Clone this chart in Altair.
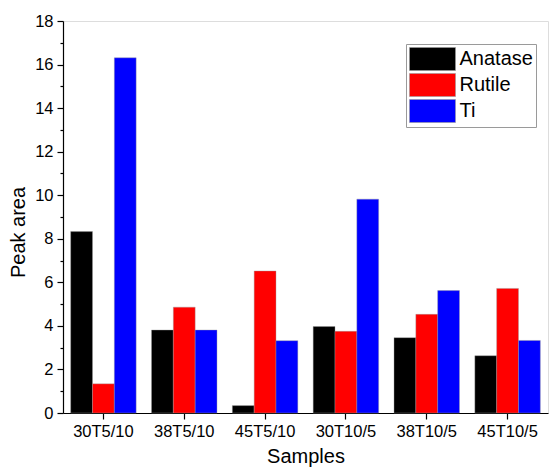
import altair as alt
import pandas as pd

# Sample names and peak areas per phase
samples = ["30T5/10", "38T5/10", "45T5/10", "30T10/5", "38T10/5", "45T10/5"]
anatase = [8.33, 3.81, 0.34, 3.97, 3.46, 2.63]
rutile = [1.34, 4.86, 6.52, 3.75, 4.53, 5.72]
ti = [16.31, 3.81, 3.32, 9.82, 5.62, 3.33]

phases = ["Anatase", "Rutile", "Ti"]
colors = ["#000000", "#ff0000", "#0000ff"]

rows = []
for phase, vals in zip(phases, [anatase, rutile, ti]):
    for s, v in zip(samples, vals):
        rows.append({"Sample": s, "Phase": phase, "Area": v})
df = pd.DataFrame(rows)

FONT = "Liberation Sans"

axis_common = dict(
    labelFont=FONT,
    titleFont=FONT,
    titleFontWeight="normal",
    labelColor="#000000",
    titleColor="#000000",
    domainColor="#000000",
    tickColor="#000000",
    domainWidth=1.2,
    tickWidth=1.2,
)

chart = (
    alt.Chart(df)
    .mark_bar(stroke="#9a9a9a", strokeWidth=0.4)
    .encode(
        x=alt.X(
            "Sample:N",
            sort=samples,
            title="Samples",
            scale=alt.Scale(paddingInner=0.19, paddingOuter=0.095),
            axis=alt.Axis(
                labelAngle=0,
                labelFontSize=16.5,
                labelPadding=4,
                tickSize=6,
                titleFontSize=20,
                titlePadding=7,
                **axis_common,
            ),
        ),
        xOffset=alt.XOffset("Phase:N", sort=phases),
        y=alt.Y(
            "Area:Q",
            title="Peak area",
            scale=alt.Scale(domain=[0, 18], nice=False),
            axis=alt.Axis(
                values=list(range(0, 19)),
                labelExpr="datum.value % 2 === 0 ? datum.label : ''",
                tickSize={"condition": {"test": "datum.value % 2 === 0", "value": 6}, "value": 3},
                labelFontSize=16.5,
                labelPadding=4,
                titleFontSize=20,
                titlePadding=6,
                titleY=211,
                grid=False,
                **axis_common,
            ),
        ),
        color=alt.Color(
            "Phase:N",
            sort=phases,
            scale=alt.Scale(domain=phases, range=colors),
            legend=alt.Legend(
                title=None,
                orient="none",
                legendX=343,
                legendY=23,
                # wide swatch: 46 x 23 px with sqrt(size) = 23
                symbolType="M-2,-1H2V1H-2Z",
                symbolSize=529,
                symbolOffset=11.5,
                symbolStrokeColor="#9a9a9a",
                symbolStrokeWidth=0.6,
                labelFontSize=20,
                labelFont=FONT,
                labelColor="#000000",
                labelOffset=15,
                rowPadding=0,
                padding=3,
                strokeColor="#9a9a9a",
                fillColor="#ffffff",
            ),
        ),
    )
    .properties(
        width=485,
        height=392,
        autosize=alt.AutoSizeParams(type="none"),
        padding={"left": 63, "top": 21, "right": 2, "bottom": 59},
    )
    .configure_view(stroke=None)
    .configure(background="#ffffff")
)

chart.save("out.html", embed_options={"renderer": "svg", "actions": False})
